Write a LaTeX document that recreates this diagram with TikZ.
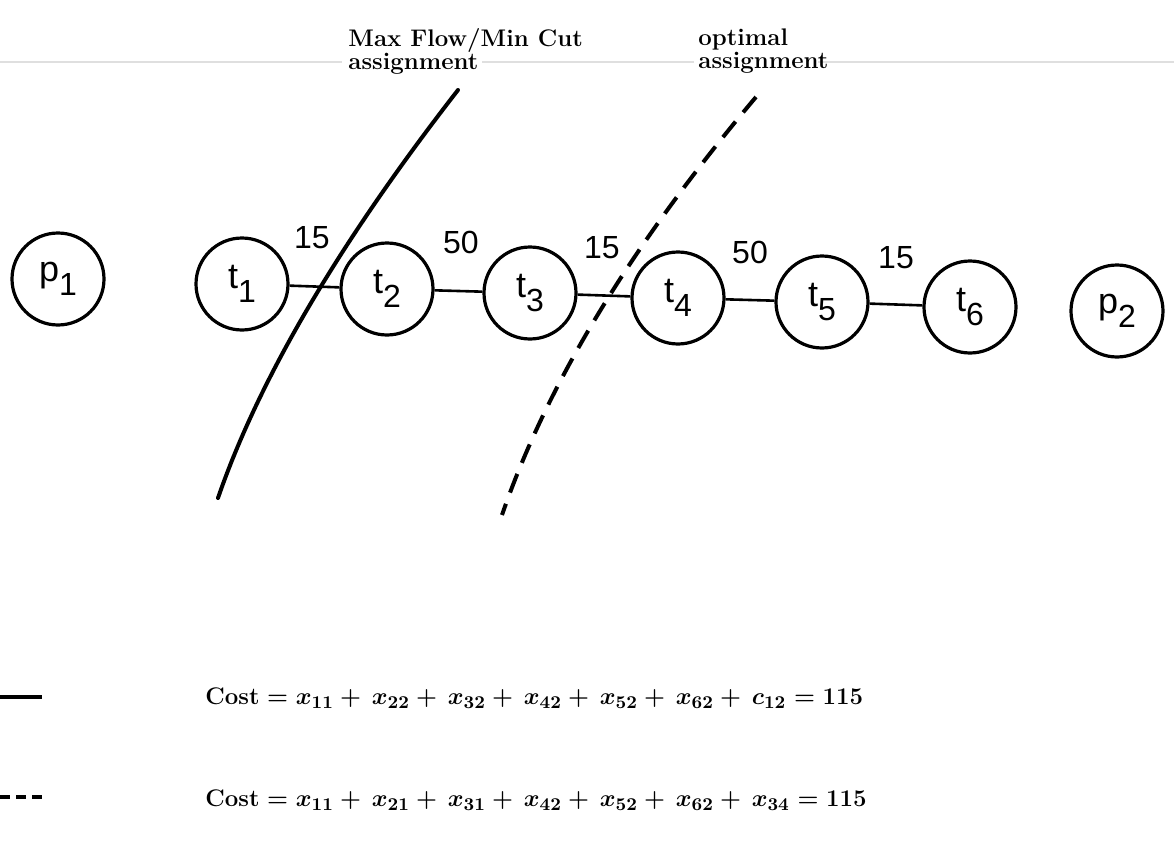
\documentclass[tikz,border=0pt]{standalone}
\usepackage{fontspec}
\newfontfamily\lab{Liberation Sans}
\newcommand{\costA}{{\boldmath$\mathbf{Cost} = x_{11} +\, x_{22} +\, x_{32} +\, x_{42} +\, x_{52} +\, x_{62} +\, c_{12} = \mathbf{115}$}}
\newcommand{\costB}{{\boldmath$\mathbf{Cost} = x_{11} +\, x_{21} +\, x_{31} +\, x_{42} +\, x_{52} +\, x_{62} +\, x_{34} = \mathbf{115}$}}
\newcommand{\vsub}[2]{#1\raisebox{-0.38em}{\fontsize{16}{16}\selectfont #2}}
\begin{document}
\begin{tikzpicture}[x=0.5pt,y=-0.5pt,
  vert/.style={circle,draw,line width=1.6pt,minimum size=46pt,inner sep=0pt,font=\lab\fontsize{18}{18}\selectfont},
  edge/.style={line width=1.3pt},
  wt/.style={font=\lab\fontsize{16}{16}\selectfont,inner sep=0pt},
  cut/.style={line width=2pt,line cap=round},
  dcut/.style={line width=2pt,dash pattern=on 10pt off 6pt},
  toplab/.style={align=left,anchor=north west,inner sep=0pt,font=\fontsize{12}{11.5}\selectfont\bfseries},
  costtext/.style={anchor=west,inner sep=0pt,font=\fontsize{12.3}{12.3}\selectfont},
  scan/.style={gray!25,line width=1pt}]
\useasboundingbox (0,0) rectangle (1174,846);
\fill[white] (0,0) rectangle (1174,846);
% faint scan line
\draw[scan] (0,62) -- (342,62);
\draw[scan] (482,62) -- (694,62);
\draw[scan] (818,62) -- (1174,62);
% top labels
\node[toplab] (mf) at (348,28) {Max Flow/Min Cut\\assignment};
\node[toplab] (op) at (698,28) {optimal\\assignment};
% vertices
\node[vert] (p1) at (58,279) {\vsub{p}{1}};
\node[vert] (t1) at (242,284) {\vsub{t}{1}};
\node[vert] (t2) at (387,289) {\vsub{t}{2}};
\node[vert] (t3) at (530,293) {\vsub{t}{3}};
\node[vert] (t4) at (678,298) {\vsub{t}{4}};
\node[vert] (t5) at (822,302) {\vsub{t}{5}};
\node[vert] (t6) at (970,307) {\vsub{t}{6}};
\node[vert] (p2) at (1117,311) {\vsub{p}{2}};
% edges
\draw[edge] (t1) -- (t2);
\draw[edge] (t2) -- (t3);
\draw[edge] (t3) -- (t4);
\draw[edge] (t4) -- (t5);
\draw[edge] (t5) -- (t6);
% weights
\node[wt] (w12) at (312,238) {15};
\node[wt] (w23) at (461,242) {50};
\node[wt] (w34) at (602,248) {15};
\node[wt] (w45) at (750,252) {50};
\node[wt] (w56) at (896,258) {15};
% cuts
\coordinate (ca) at (458,90);
\coordinate (cb) at (218,498);
\draw[cut] (ca) .. controls (339,243) and (259,379) .. (cb);
\coordinate (da) at (756,97);
\coordinate (db) at (502,515);
\draw[dcut] (da) .. controls (632,244) and (547,384) .. (db);
% legend
\coordinate (l1a) at (0,697);
\coordinate (l1b) at (42,697);
\draw[line width=1.6pt] (l1a) -- (l1b);
\coordinate (l2a) at (0,797);
\coordinate (l2b) at (42,797);
\draw[line width=1.6pt,dash pattern=on 5pt off 3pt] (l2a) -- (l2b);
\node[costtext] (f1) at (205,698) {\costA};
\node[costtext] (f2) at (205,800) {\costB};
\end{tikzpicture}
\end{document}
